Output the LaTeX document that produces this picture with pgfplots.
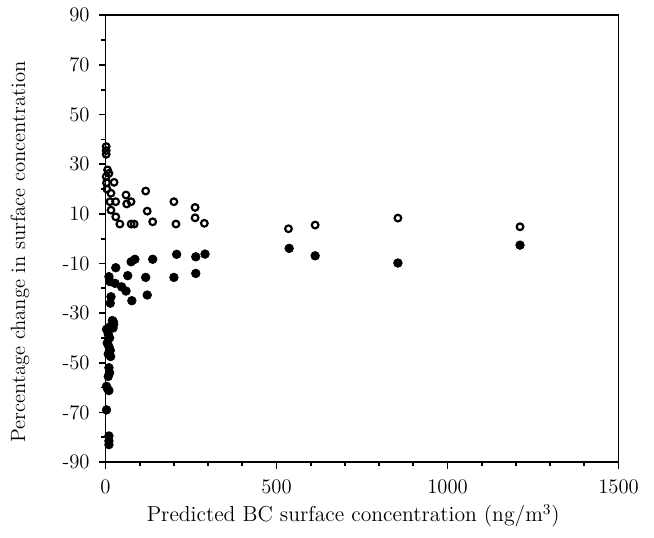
\documentclass[border=0pt]{standalone}
\usepackage{pgfplots}
\pgfplotsset{compat=1.18}
\begin{document}
\begin{tikzpicture}
\begin{axis}[
  scale only axis,
  width=307.8pt, height=268pt,
  xmin=0, xmax=1500, ymin=-90, ymax=90,
  xtick={0,500,1000,1500},
  minor xtick={100,200,300,400,600,700,800,900,1100,1200,1300,1400},
  ytick={-90,-70,-50,-30,-10,10,30,50,70,90},
  minor ytick={-80,-60,-40,-20,0,20,40,60,80},
  tick align=outside,
  xtick pos=bottom, ytick pos=left,
  major tick length=4pt, minor tick length=2.5pt,
  every tick/.style={line width=1pt, black},
  axis line style={line width=1pt},
  /pgf/number format/1000 sep={},
  /pgf/number format/assume math mode=true,
  ticklabel style={font=\fontsize{12.4}{14}\selectfont},
  xticklabel style={yshift=-3pt},
  yticklabel style={xshift=-2pt},
  xlabel={Predicted BC surface concentration (ng/m$^3$)},
  ylabel={Percentage change in surface concentration},
  xlabel style={font=\fontsize{13}{15}\selectfont, at={(axis description cs:0.483,-0.121)}, anchor=center},
  ylabel style={font=\fontsize{12.4}{14}\selectfont, at={(axis description cs:-0.1667,0.47)}, anchor=center},
  clip=false,
]
% open circles
\addplot[only marks, mark=o, mark size=2pt, mark options={line width=1.3pt, black}] coordinates {
(2,37.1) (2,35.5) (2,34.0) (6,27.7) (10,26.3) (2,25) (3,22.5) (4,20)
(25,22.7) (16,18.3) (60,17.6) (117.5,19.2) (74.6,14.9) (62,14.0)
(29.8,14.9) (13,14.9) (16,11.5) (122,11.1) (200,14.9) (262,12.6)
(262,8.4) (30,8.8) (42,5.9) (75,5.9) (84,5.9) (138,6.8) (206,5.9)
(289,6.2) (535,4.0) (613,5.5) (855,8.3) (1212,4.8)
};
% filled circles
\addplot[only marks, mark=*, mark size=2.6pt, mark options={black, fill=black}] coordinates {
(537,-3.9) (613,-6.9) (855,-9.8) (1212,-2.6)
(291,-6.2) (208,-6.3) (264,-7.3) (264,-14.0) (200,-15.6)
(138,-8.3) (117.5,-15.6) (122,-22.7) (86,-8.3) (75,-9.3)
(65,-14.9) (60,-21.1) (77,-25) (30,-11.7) (10,-15.3) (28,-18.0)
(47,-19.4) (13,-17.3) (16,-23.4) (14,-26) (23,-33.5) (13,-35.5)
(20,-33) (24,-34.5) (22,-36)
(3,-36.5) (8,-38.5) (12,-40) (5,-42) (10,-43.5) (14,-45) (8,-46.5) (15,-47.5)
(10,-52) (12,-54) (8,-55.5) (3,-59.5) (6,-60.5) (10,-61.2) (3,-69)
(10,-79.5) (10,-81.5) (10,-83)
};
\end{axis}
\path ([xshift=-63.3pt,yshift=-45pt]current axis.south west) ([xshift=21.3pt,yshift=9.2pt]current axis.north east);
\end{tikzpicture}
\end{document}
